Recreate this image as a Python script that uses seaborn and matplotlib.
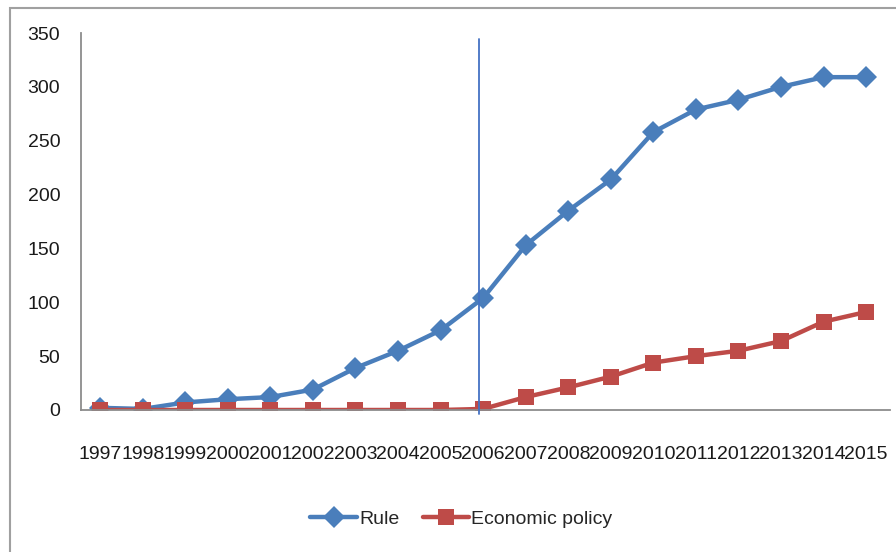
import matplotlib
matplotlib.use("Agg")
import matplotlib.pyplot as plt
import seaborn as sns
import pandas as pd
from matplotlib.patches import Rectangle

years = [str(y) for y in range(1997, 2016)]
rule = [2, 1, 7, 10, 12, 19, 39, 55, 74, 104, 153, 185, 214, 258, 279, 288, 300, 309, 309]
econ = [0, 0, 0, 0, 0, 0, 0, 0, 0, 1, 12, 21, 31, 44, 50, 55, 64, 82, 91]
series_names = ["Rule", "Economic policy"]
colors = ["#4A7EBB", "#BE4B48"]
y_ticks = [0, 50, 100, 150, 200, 250, 300, 350]

sns.set_theme(style="white")
plt.rcParams["font.family"] = ["Liberation Sans", "DejaVu Sans"]

df = pd.DataFrame({
    "year": years * 2,
    "value": rule + econ,
    "series": [series_names[0]] * len(years) + [series_names[1]] * len(years),
})

fig = plt.figure(figsize=(8.96, 5.52), dpi=100)
ax = fig.add_axes([81/896, 1-410/552, (890-81)/896, (410-33)/552])

sns.lineplot(data=df, x="year", y="value", hue="series", style="series",
             markers={"Rule": "D", "Economic policy": "s"}, dashes=False,
             palette=colors, linewidth=3.2, markersize=11, markeredgewidth=0,
             ax=ax, sort=False)

ax.set_xlim(-0.45, 18.56)
ax.set_ylim(0, 350)
ax.set_yticks(y_ticks)
ax.set_xlabel("")
ax.set_ylabel("")
ax.tick_params(axis="both", length=0, labelsize=14, colors="#1a1a1a")
ax.tick_params(axis="y", pad=15)
ax.tick_params(axis="x", pad=26)
for s in ["top", "right"]:
    ax.spines[s].set_visible(False)
for s in ["left", "bottom"]:
    ax.spines[s].set_color("#8c8c8c")
    ax.spines[s].set_linewidth(1.3)

# vertical marker line near 2006
ax.plot([8.9, 8.9], [-4, 344], color="#4472C4", linewidth=1.3, clip_on=False, zorder=5)

handles, labels = ax.get_legend_handles_labels()
ax.legend(handles, labels, loc="center", bbox_to_anchor=(0.515, 1-519/552), bbox_transform=fig.transFigure,
          ncol=2, frameon=False, fontsize=14, handlelength=2.4, columnspacing=1.2, handletextpad=0.1)

fig.patches.append(Rectangle((10/896, -0.1), 1.2, 1-8/552 + 0.1, transform=fig.transFigure,
                             fill=False, edgecolor="#a0a0a0", linewidth=1.5))

fig.savefig("out.png", dpi=100)
